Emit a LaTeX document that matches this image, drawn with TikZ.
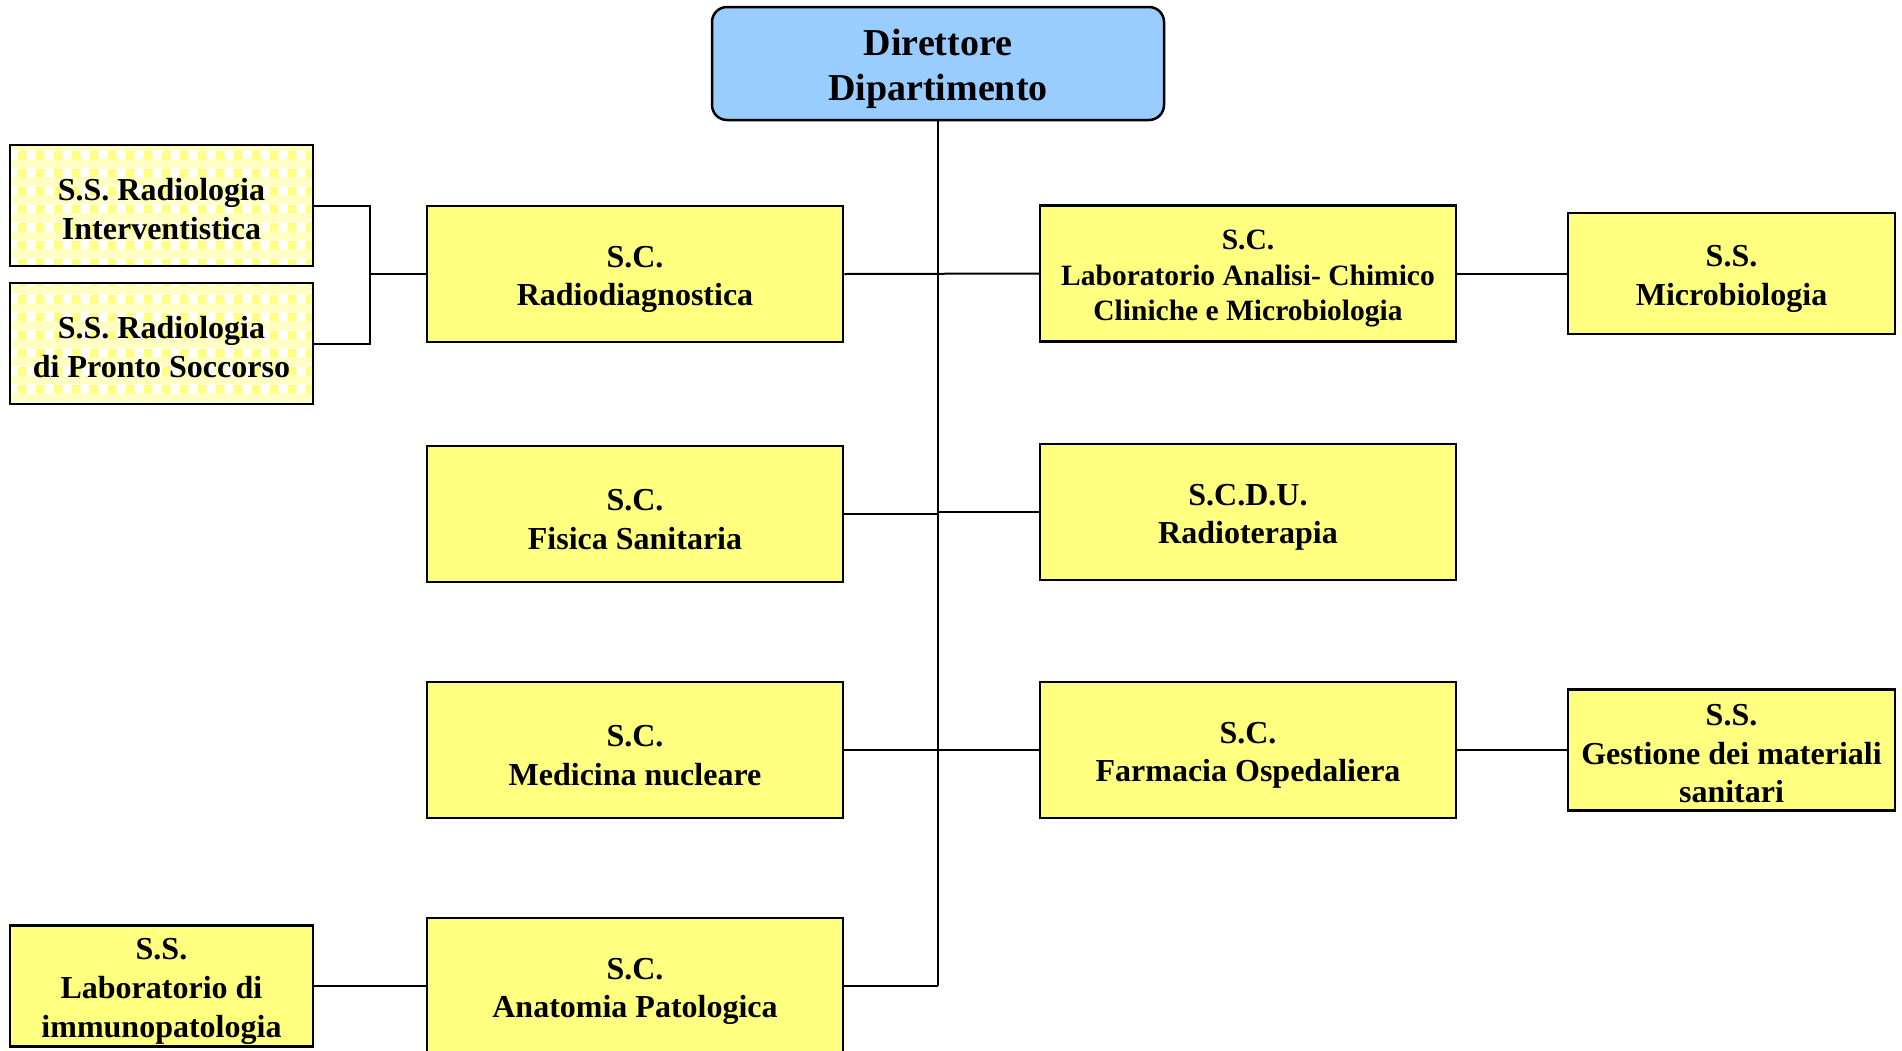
\documentclass[tikz,border=0pt]{standalone}
\usepackage{fontspec}
\setmainfont{Liberation Serif}
\usetikzlibrary{patterns.meta}
\definecolor{boxY}{HTML}{FFFF80}
\definecolor{paleY}{HTML}{FFFFC4}
\definecolor{dirB}{HTML}{99CCFF}
\pgfdeclarepattern{
  name=ychk,
  type=colored,
  bottom left={\pgfpoint{0pt}{0pt}},
  top right={\pgfpoint{18pt}{18pt}},
  tile size={\pgfpoint{18pt}{18pt}},
  code={
    \pgfsetfillcolor{paleY}
    \pgfpathrectangle{\pgfpointorigin}{\pgfpoint{18pt}{18pt}}
    \pgfusepath{fill}
    \pgfsetfillcolor{boxY}
    \pgfpathrectangle{\pgfpoint{0pt}{9pt}}{\pgfpoint{9pt}{9pt}}
    \pgfusepath{fill}
    \pgfsetfillcolor{white}
    \pgfpathrectangle{\pgfpoint{9pt}{9pt}}{\pgfpoint{9pt}{9pt}}
    \pgfusepath{fill}
  }
}
\newcommand{\upby}[1]{\rule{0pt}{#1}}
\tikzset{
  unit/.style={draw=black, line width=2.5pt, fill=boxY, align=center, inner sep=0pt,
    font=\fontsize{32}{38.5}\selectfont\bfseries},
  big/.style={unit, minimum width=416pt, minimum height=136pt},
  small/.style={unit, minimum width=303pt, minimum height=121pt},
  side/.style={unit, minimum width=327pt, minimum height=121pt},
  checked/.style={small, pattern=ychk},
  head/.style={draw=black, line width=2.5pt, fill=dirB, rounded corners=15pt, align=center,
    inner sep=0pt, minimum width=452pt, minimum height=113pt,
    font=\fontsize{38}{45}\selectfont\bfseries},
  link/.style={draw=black, line width=2pt}
}
\begin{document}
\begin{tikzpicture}[x=1pt,y=-1pt]
\useasboundingbox (0,0) rectangle (1902,1050);
\fill[white] (0,0) rectangle (1902,1050);

\node[head] (dir) at (938,63.5) {\upby{37pt}Direttore\\Dipartimento};

\node[checked] (ri) at (161.5,205.5) {\upby{29pt}S.S. Radiologia\\Interventistica};
\node[checked] (rps) at (161.5,343.5) {\upby{29pt}S.S. Radiologia\\di Pronto Soccorso};

\node[big] (rad) at (635,274) {\upby{32pt}S.C.\\Radiodiagnostica};
\node[big] (fis) at (635,514) {\upby{32pt}S.C.\\Fisica Sanitaria};
\node[big] (med) at (635,750) {\upby{32pt}S.C.\\Medicina nucleare};
\node[big] (ana) at (635,986) {\upby{32pt}S.C.\\Anatomia Patologica};

\node[small, font=\fontsize{32}{39}\selectfont\bfseries] (imm) at (161.5,986) {\upby{33pt}S.S.\\Laboratorio di\\immunopatologia};

\node[big, font=\fontsize{29.5}{35.5}\selectfont\bfseries] (lab) at (1248,273.5) {\upby{30pt}S.C.\\Laboratorio Analisi- Chimico\\Cliniche e Microbiologia};
\node[big] (scdu) at (1248,512) {\upby{32pt}S.C.D.U.\\Radioterapia};
\node[big] (far) at (1248,750) {\upby{32pt}S.C.\\Farmacia Ospedaliera};

\node[side] (mic) at (1731.5,273.5) {\upby{32pt}S.S.\\Microbiologia};
\node[side] (ges) at (1731.5,750) {\upby{29pt}S.S.\\Gestione dei materiali\\sanitari};

% trunk
\coordinate (tend) at (ana.east -| dir.south);
\draw[link] (dir.south) -- (tend);
\draw[link] (ana.east) -- (tend);
\draw[link] (rad.east) -- (lab.west);
\draw[link] (fis.east) -- (fis.east -| dir.south);
\draw[link] (scdu.west) -- (scdu.west -| dir.south);
\draw[link] (med.east) -- (far.west);

% right side
\draw[link] (lab.east) -- (mic.west);
\draw[link] (far.east) -- (ges.west);

% left bracket
\coordinate (br) at (370,274);
\draw[link] (ri.east) -| (br) |- (rps.east);
\draw[link] (br) -- (rad.west);
\draw[link] (imm.east) -- (ana.west);
\end{tikzpicture}
\end{document}
